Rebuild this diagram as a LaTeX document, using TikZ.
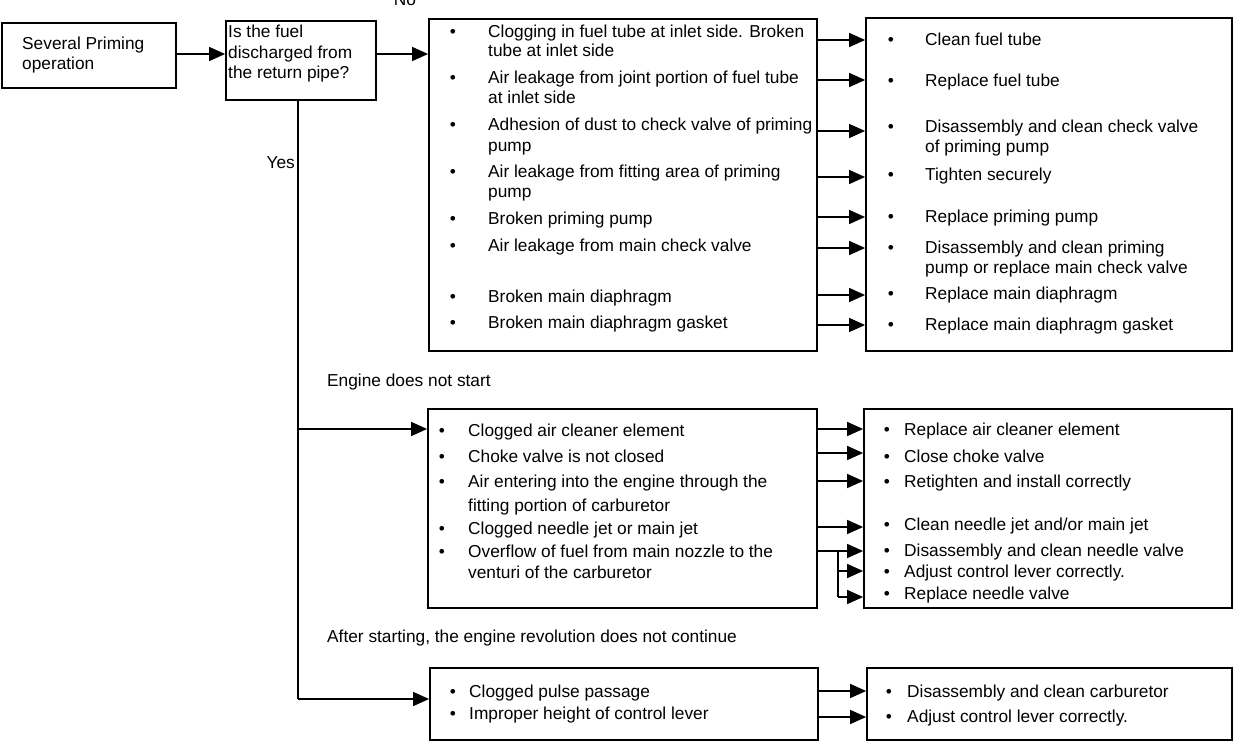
\documentclass[tikz,border=0pt]{standalone}
\usepackage{fontspec}
\setmainfont{Liberation Sans}
\usetikzlibrary{arrows.meta}
\begin{document}
\begin{tikzpicture}[x=1pt,y=-1pt,
  box/.style={draw=black, line width=1.8pt, rectangle, inner sep=0pt},
  txt/.style={inner sep=0pt, anchor=base west, font=\fontsize{17.3}{19.8}\selectfont},
  bul/.style={inner sep=0pt, anchor=base, font=\fontsize{17.3}{19.8}\selectfont},
  arr/.style={-{Triangle[length=16pt,width=14pt]}, line width=1.5pt},
  conn/.style={line width=1.5pt}]
\useasboundingbox (0,0) rectangle (1234,747);

% boxes
\node[box, minimum width=174pt, minimum height=65pt] (b1) at (89,55.5) {};
\node[box, minimum width=150pt, minimum height=79pt] (b2) at (301,60.5) {};
\node[box, minimum width=388pt, minimum height=332pt] (b3) at (623,185) {};
\node[box, minimum width=366pt, minimum height=333pt] (b4) at (1049,184.5) {};
\node[box, minimum width=389pt, minimum height=199pt] (b5) at (622.5,508.5) {};
\node[box, minimum width=368pt, minimum height=199pt] (b6) at (1048,508.5) {};
\node[box, minimum width=388pt, minimum height=72pt] (b7) at (624,704) {};
\node[box, minimum width=365pt, minimum height=72pt] (b8) at (1049.5,704) {};

% box 1 and 2 text
\node[txt] (t1a) at (22,49) {Several Priming};
\node[txt] (t1b) at (22,69) {operation};
\node[txt] (t2a) at (228,37) {Is the fuel};
\node[txt] (t2b) at (228,58) {discharged from};
\node[txt] (t2c) at (228,78) {the return pipe?};

% labels
\node[txt, anchor=base] (no) at (405,5) {No};
\node[txt, anchor=base east] (yes) at (295,168) {Yes};
\node[txt] (l1) at (327,386) {Engine does not start};
\node[txt] (l2) at (327,642) {After starting, the engine revolution does not continue};

% box 3 causes
\foreach \y in {37,83,130,177,224,251,302,328} \node[bul] at (453,\y) {•};
\node[txt] (c1) at (488,37) {Clogging in fuel tube at inlet side. Broken};
\node[txt] (c1b) at (488,56) {tube at inlet side};
\node[txt] (c2) at (488,83) {Air leakage from joint portion of fuel tube};
\node[txt] (c2b) at (488,103) {at inlet side};
\node[txt] (c3) at (488,130) {Adhesion of dust to check valve of priming};
\node[txt] (c3b) at (488,151) {pump};
\node[txt] (c4) at (488,177) {Air leakage from fitting area of priming};
\node[txt] (c4b) at (488,197) {pump};
\node[txt] (c5) at (488,224) {Broken priming pump};
\node[txt] (c6) at (488,251) {Air leakage from main check valve};
\node[txt] (c7) at (488,302) {Broken main diaphragm};
\node[txt] (c8) at (488,328) {Broken main diaphragm gasket};

% box 4 remedies
\foreach \y in {45,86,132,180,222,253,299,330} \node[bul] at (891,\y) {•};
\node[txt] (r1) at (925,45) {Clean fuel tube};
\node[txt] (r2) at (925,86) {Replace fuel tube};
\node[txt] (r3) at (925,132) {Disassembly and clean check valve};
\node[txt] (r3b) at (925,152) {of priming pump};
\node[txt] (r4) at (925,180) {Tighten securely};
\node[txt] (r5) at (925,222) {Replace priming pump};
\node[txt] (r6) at (925,253) {Disassembly and clean priming};
\node[txt] (r6b) at (925,273) {pump or replace main check valve};
\node[txt] (r7) at (925,299) {Replace main diaphragm};
\node[txt] (r8) at (925,330) {Replace main diaphragm gasket};

% box 5 causes
\foreach \y in {436,462,487,534,557} \node[bul] at (442,\y) {•};
\node[txt] (d1) at (468,436) {Clogged air cleaner element};
\node[txt] (d2) at (468,462) {Choke valve is not closed};
\node[txt] (d3) at (468,487) {Air entering into the engine through the};
\node[txt] (d3b) at (468,511) {fitting portion of carburetor};
\node[txt] (d4) at (468,534) {Clogged needle jet or main jet};
\node[txt] (d5) at (468,557) {Overflow of fuel from main nozzle to the};
\node[txt] (d5b) at (468,578) {venturi of the carburetor};

% box 6 remedies
\foreach \y in {435,462,487,530,556,577,599} \node[bul] at (887,\y) {•};
\node[txt] (e1) at (904,435) {Replace air cleaner element};
\node[txt] (e2) at (904,462) {Close choke valve};
\node[txt] (e3) at (904,487) {Retighten and install correctly};
\node[txt] (e4) at (904,530) {Clean needle jet and/or main jet};
\node[txt] (e5) at (904,556) {Disassembly and clean needle valve};
\node[txt] (e6) at (904,577) {Adjust control lever correctly.};
\node[txt] (e7) at (904,599) {Replace needle valve};

% box 7 and 8
\foreach \y in {697,719} \node[bul] at (453,\y) {•};
\node[txt] (f1) at (469,697) {Clogged pulse passage};
\node[txt] (f2) at (469,719) {Improper height of control lever};
\foreach \y in {697,722} \node[bul] at (889,\y) {•};
\node[txt] (g1) at (907,697) {Disassembly and clean carburetor};
\node[txt] (g2) at (907,722) {Adjust control lever correctly.};

% connectors top
\draw[arr] (b1.east |- 0,54) -- (b2.west |- 0,54);
\draw[arr] (b2.east |- 0,54) -- (b3.west |- 0,54);
\foreach \y in {40,80,131,177,217,248,295,325}
  \draw[arr] (b3.east |- 0,\y) -- (b4.west |- 0,\y);

% trunk
\coordinate (jA) at (298,429);
\coordinate (jB) at (298,699);
\draw[conn] (b2.south -| jA) -- (jB);
\draw[arr] (jA) -- (b5.west |- jA);
\draw[arr] (jB) -- (b7.west |- jB);

% middle connectors
\foreach \y in {429,453,481,527,551}
  \draw[arr] (b5.east |- 0,\y) -- (b6.west |- 0,\y);
\coordinate (br) at (838,551);
\draw[conn] (br) -- (838,597);
\draw[arr] (br |- 0,571) -- (b6.west |- 0,571);
\draw[arr] (br |- 0,597) -- (b6.west |- 0,597);

% bottom connectors
\foreach \y in {691,717}
  \draw[arr] (b7.east |- 0,\y) -- (b8.west |- 0,\y);
\end{tikzpicture}
\end{document}
